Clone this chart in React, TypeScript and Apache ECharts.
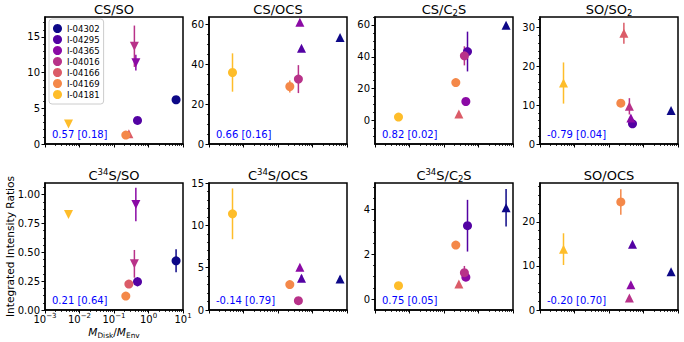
import { useEffect, useRef } from 'react';
import * as echarts from 'echarts';

// ---------- data ----------
const sources = ['I-04302', 'I-04295', 'I-04365', 'I-04016', 'I-04166', 'I-04169', 'I-04181'];
const sourceColors = ['#0d0887', '#5302a3', '#8b0aa5', '#b83289', '#db5c68', '#f48849', '#febd2a'];
// M_Disk / M_Env for each source
const massRatio = [6.3, 0.48, 0.43, 0.39, 0.27, 0.22, 0.0048];

const panelTitles = [
  'CS/SO', 'CS/OCS', 'CS/C{sub|2}S', 'SO/SO{sub|2}',
  'C{sup|34}S/SO', 'C{sup|34}S/OCS', 'C{sup|34}S/C{sub|2}S', 'SO/OCS',
];
const correlationLabels = [
  '0.57 [0.18]', '0.66 [0.16]', '0.82 [0.02]', '-0.79 [0.04]',
  '0.21 [0.64]', '-0.14 [0.79]', '0.75 [0.05]', '-0.20 [0.70]',
];

// marker: o = circle (detection), ^ = lower limit, v = upper limit, '' = not plotted
const csSoValues = [6.2, 3.3, 11.4, 13.7, 1.45, 1.25, 2.8];
const csSoErrors = [0, 0, 1.1, 2.9, 0, 0, 0];
const csSoMarkers = ['o', 'o', 'v', 'v', '^', 'o', 'v'];

const csOcsValues = [53.3, 48, 61, 32.5, null, 28.8, 35.8];
const csOcsErrors = [0, 0, 0, 7, 0, 3, 9.6];
const csOcsMarkers = ['^', '^', '^', 'o', '', 'o', 'o'];

const csC2sValues = [59.8, 43.3, 11.9, 40.6, 4, 23.8, 2.1];
const csC2sErrors = [0, 12.5, 0, 6, 0, 0, 0];
const csC2sMarkers = ['^', 'o', 'o', 'o', '^', 'o', 'o'];

const soSo2Values = [8.6, 5.2, 6.7, 9.7, 28.5, 10.5, 15.7];
const soSo2Errors = [0, 0, 0, 2.1, 2.7, 0, 5.3];
const soSo2Markers = ['^', 'o', '^', '^', '^', 'o', '^'];

const c34sSoValues = [0.426, 0.245, 0.913, 0.4, 0.225, 0.121, 0.827];
const c34sSoErrors = [0.1, 0.04, 0.145, 0.12, 0, 0, 0];
const c34sSoMarkers = ['o', 'o', 'v', 'v', 'o', 'o', 'v'];

const c34sOcsValues = [3.65, 3.75, 5.05, 1.1, null, 3.0, 11.36];
const c34sOcsErrors = [0.35, 0.4, 0, 0, 0, 0, 3.0];
const c34sOcsMarkers = ['^', '^', '^', 'o', '', 'o', 'o'];

const c34sC2sValues = [4.07, 3.27, 0.98, 1.18, 0.68, 2.41, 0.6];
const c34sC2sErrors = [0.83, 1.15, 0, 0.3, 0, 0, 0];
const c34sC2sMarkers = ['^', 'o', 'o', 'o', '^', 'o', 'o'];

const soOcsValues = [8.7, 14.9, 5.7, 2.7, null, 24.5, 13.8];
const soOcsErrors = [0, 0, 0, 0, 0, 2.9, 3.6];
const soOcsMarkers = ['^', '^', '^', '^', '', 'o', '^'];

const yMinValues = [0, 0, -14.8, 0, 0, 0, -0.48, 0];
const yMaxValues = [17.8, 63.6, 65, 32.7, 1.1, 15, 5.17, 28.8];
const yMajorTicks = [
  [0, 5, 10, 15], [0, 20, 40, 60], [0, 20, 40, 60], [0, 10, 20, 30],
  [0, 0.25, 0.5, 0.75, 1], [0, 5, 10, 15], [0, 2, 4], [0, 10, 20],
];
const yMinorSteps = [1, 5, 5, 2, 0.0625, 1, 0.5, 2];

// ---------- layout ----------
const gridLefts = [45, 209, 375, 540];
const gridTops = [17, 183];
const gridW = 138;
const gridH = 127;
const FONT = 'DejaVu Sans';

export default function App() {
  const ref = useRef<HTMLDivElement>(null);
  useEffect(() => {
    if (!ref.current) return;
    const chart = echarts.init(ref.current, undefined, { renderer: 'svg' });

    const panels = [
      { values: csSoValues, errors: csSoErrors, markers: csSoMarkers },
      { values: csOcsValues, errors: csOcsErrors, markers: csOcsMarkers },
      { values: csC2sValues, errors: csC2sErrors, markers: csC2sMarkers },
      { values: soSo2Values, errors: soSo2Errors, markers: soSo2Markers },
      { values: c34sSoValues, errors: c34sSoErrors, markers: c34sSoMarkers },
      { values: c34sOcsValues, errors: c34sOcsErrors, markers: c34sOcsMarkers },
      { values: c34sC2sValues, errors: c34sC2sErrors, markers: c34sC2sMarkers },
      { values: soOcsValues, errors: soOcsErrors, markers: soOcsMarkers },
    ];

    const minorX: number[] = [];
    for (let d = -3; d < 1; d++) {
      for (let k = 2; k <= 9; k++) minorX.push(Number((k * Math.pow(10, d)).toPrecision(6)));
    }
    const minorTicks = (min: number, max: number, step: number) => {
      const out: number[] = [];
      const start = Math.ceil(min / step - 1e-9);
      for (let n = start; n * step <= max + 1e-9; n++) out.push(Number((n * step).toFixed(6)));
      return out;
    };

    const grids: any[] = [];
    const xAxes: any[] = [];
    const yAxes: any[] = [];
    const series: any[] = [];
    const graphics: any[] = [];
    const xMinorAxes: any[] = [];
    const yMinorAxes: any[] = [];

    const richSupSub = (base: number) => ({
      sup: { fontSize: base * 0.7, verticalAlign: 'top', lineHeight: base * 0.75, fontFamily: FONT, fill: '#000', color: '#000' },
      sub: { fontSize: base * 0.7, verticalAlign: 'bottom', lineHeight: base * 0.75, fontFamily: FONT, fill: '#000', color: '#000' },
      i: { fontSize: base, fontStyle: 'italic', fontFamily: FONT, fill: '#000', color: '#000' },
    });

    for (let p = 0; p < 8; p++) {
      const col = p % 4;
      const row = Math.floor(p / 4);
      const left = gridLefts[col];
      const top = gridTops[row];
      grids.push({
        left, top, width: gridW, height: gridH, show: true,
        borderColor: '#000', borderWidth: 1.5, backgroundColor: 'transparent',
        containLabel: false, outerBoundsMode: 'none',
      });
      xAxes.push({
        type: 'log', logBase: 10, gridIndex: p, min: 0.001, max: 10, position: 'bottom',
        axisLine: { show: true, onZero: false, lineStyle: { color: '#000', width: 1.5 } },
        axisTick: { show: true, inside: false, length: 3.5, lineStyle: { color: '#000', width: 1 } },
        axisLabel: {
          show: p === 4, color: '#000', fontSize: 10, fontFamily: FONT, margin: 2, lineHeight: 14,
          formatter: (v: number) => {
            const e = Math.round(Math.log10(v));
            return '10{sup|' + (e < 0 ? '\u2212' + -e : String(e)) + '}';
          },
          rich: { sup: { fontSize: 7, verticalAlign: 'top', lineHeight: 8, fontFamily: FONT, color: '#000' } },
        },
        splitLine: { show: false },
        minorTick: { show: false },
        minorSplitLine: { show: false },
      });
      xMinorAxes.push({
        type: 'log', logBase: 10, gridIndex: p, min: 0.001, max: 10, position: 'bottom',
        axisLine: { show: false, onZero: false },
        axisTick: { show: true, inside: false, length: 2, customValues: minorX, lineStyle: { color: '#000', width: 0.8 } },
        axisLabel: { show: false },
        splitLine: { show: false },
      });
      yAxes.push({
        type: 'value', gridIndex: p, min: yMinValues[p], max: yMaxValues[p], position: 'left',
        axisLine: { show: true, onZero: false, lineStyle: { color: '#000', width: 1.5 } },
        axisTick: { show: true, inside: false, length: 3.5, customValues: yMajorTicks[p], lineStyle: { color: '#000', width: 1 } },
        axisLabel: {
          show: true, color: '#000', fontSize: 10, fontFamily: FONT, margin: 5,
          customValues: yMajorTicks[p],
          formatter: (v: number) => (p === 4 ? v.toFixed(2) : String(v)),
        },
        splitLine: { show: false },
      });
      yMinorAxes.push({
        type: 'value', gridIndex: p, min: yMinValues[p], max: yMaxValues[p], position: 'left',
        axisLine: { show: false, onZero: false },
        axisTick: {
          show: true, inside: false, length: 2,
          customValues: minorTicks(yMinValues[p], yMaxValues[p], yMinorSteps[p]),
          lineStyle: { color: '#000', width: 0.8 },
        },
        axisLabel: { show: false },
        splitLine: { show: false },
      });

      const panel = panels[p];
      const errData: number[][] = [];
      for (let i = 0; i < sources.length; i++) {
        const v = panel.values[i];
        const m = panel.markers[i];
        if (v === null || v === undefined || !m) continue;
        if (panel.errors[i] > 0) errData.push([massRatio[i], v, panel.errors[i], i]);
        series.push({
          type: 'scatter', name: sources[i], xAxisIndex: p, yAxisIndex: p,
          symbolSize: 9, silent: true, z: 3,
          itemStyle: { color: sourceColors[i], opacity: 1 },
          emphasis: { disabled: true },
          data: [{
            value: [massRatio[i], v],
            symbol: m === 'o' ? 'circle' : 'triangle',
            symbolRotate: m === 'v' ? 180 : 0,
          }],
        });
      }
      series.push({
        type: 'custom', name: 'errors' + p, xAxisIndex: p, yAxisIndex: p, z: 2, silent: true,
        encode: { x: 0, y: 1 },
        data: errData,
        renderItem: (_params: any, api: any) => {
          const x = api.value(0);
          const y = api.value(1);
          const e = api.value(2);
          const c = sourceColors[api.value(3)];
          const p1 = api.coord([x, y - e]);
          const p2 = api.coord([x, y + e]);
          return {
            type: 'line',
            shape: { x1: p1[0], y1: p1[1], x2: p2[0], y2: p2[1] },
            style: { stroke: c, lineWidth: 1.5 },
          };
        },
      });

      graphics.push({
        type: 'text', x: left + gridW / 2, y: top - 7.5, silent: true,
        style: {
          text: panelTitles[p], fontSize: 13, fontFamily: FONT, fill: '#000',
          align: 'center', verticalAlign: 'middle', lineHeight: 16,
          rich: {
            sup: { fontSize: 8.5, verticalAlign: 'top', lineHeight: 9, fontFamily: FONT, fill: '#000' },
            sub: { fontSize: 8.5, verticalAlign: 'bottom', lineHeight: 9, fontFamily: FONT, fill: '#000' },
          },
        },
      });
      graphics.push({
        type: 'text', x: left + 7, y: top + gridH - 10, silent: true,
        style: {
          text: correlationLabels[p], fontSize: 10, fontFamily: FONT, fill: '#0000ff',
          align: 'left', verticalAlign: 'middle',
        },
      });
    }

    graphics.push({
      type: 'text', x: 10, y: gridTops[1] + gridH / 2, rotation: Math.PI / 2, silent: true,
      style: {
        text: 'Integrated Intensity Ratios', fontSize: 10.6, fontFamily: FONT, fill: '#000',
        align: 'center', verticalAlign: 'middle',
      },
    });
    graphics.push({
      type: 'text', x: gridLefts[0] + gridW / 2, y: 332, silent: true,
      style: {
        text: '{i|M}{sub|Disk}/{i|M}{sub|Env}', fontSize: 10.6, fontFamily: FONT, fill: '#000',
        align: 'center', verticalAlign: 'middle', lineHeight: 14,
        rich: richSupSub(10.6),
      },
    });

    chart.setOption({
      animation: false,
      backgroundColor: '#fff',
      textStyle: { fontFamily: FONT },
      grid: grids,
      xAxis: [...xAxes, ...xMinorAxes],
      yAxis: [...yAxes, ...yMinorAxes],
      legend: {
        data: sources,
        orient: 'vertical', left: 49, top: 19,
        icon: 'circle', itemWidth: 9, itemHeight: 9, itemGap: 2,
        selectedMode: false,
        backgroundColor: 'rgba(255,255,255,0.85)',
        borderColor: '#cccccc', borderWidth: 1, borderRadius: 3,
        padding: [5, 4, 5, 4],
        textStyle: { fontSize: 8.5, fontFamily: FONT, color: '#000' },
        z: 10,
      },
      series,
      graphic: graphics,
    });

    return () => chart.dispose();
  }, []);

  return <div ref={ref} style={{ position: 'fixed', left: 0, top: 0, width: 684, height: 342 }} />;
}
